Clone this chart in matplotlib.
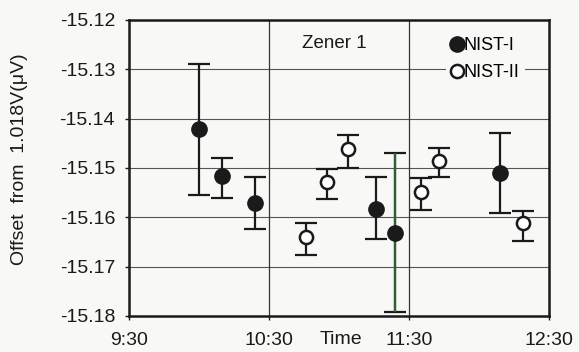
import numpy as np
import matplotlib.pyplot as plt

plt.rcParams["font.family"] = ["Liberation Sans", "DejaVu Sans"]

# readings of Zener 1, offset from 1.018 V in uV
nist1_time = ["10:00", "10:10", "10:24", "11:16", "11:24", "12:09"]
nist1_val = [-15.1421, -15.1516, -15.1570, -15.1584, -15.1631, -15.1510]
nist1_lo = [-15.1555, -15.1560, -15.1623, -15.1644, -15.1791, -15.1591]
nist1_hi = [-15.1290, -15.1480, -15.1518, -15.1519, -15.1470, -15.1430]

nist2_time = ["10:46", "10:55", "11:04", "11:35", "11:43", "12:19"]
nist2_val = [-15.1639, -15.1528, -15.1461, -15.1548, -15.1485, -15.1612]
nist2_lo = [-15.1676, -15.1563, -15.1501, -15.1586, -15.1519, -15.1647]
nist2_hi = [-15.1612, -15.1503, -15.1434, -15.1521, -15.1459, -15.1587]

x_ticks = ["9:30", "10:30", "11:30", "12:30"]
y_ticks = [-15.12, -15.13, -15.14, -15.15, -15.16, -15.17, -15.18]


def hours(stamps):
    return np.array([int(s.split(":")[0]) + int(s.split(":")[1]) / 60 for s in stamps])


def err(val, lo, hi):
    val, lo, hi = np.array(val), np.array(lo), np.array(hi)
    return np.vstack([val - lo, hi - val])


bg = "#f8f8f6"
fig = plt.figure(figsize=(5.79, 3.52), dpi=100, facecolor=bg)
ax = fig.add_axes([0.2228, 0.1023, 0.7254, 0.8409], facecolor=bg)

t1, t2 = hours(nist1_time), hours(nist2_time)
xt = hours(x_ticks)

for y in y_ticks[1:-1]:
    ax.axhline(y, color="#555555", lw=0.8, zorder=1)
for x in xt[1:-1]:
    ax.axvline(x, color="#333333", lw=0.9, zorder=1)

kw = dict(fmt="none", ecolor="#1a1a1a", elinewidth=1.6, capsize=7.8,
          capthick=1.6, zorder=3)
ax.errorbar(t1, nist1_val, yerr=err(nist1_val, nist1_lo, nist1_hi), **kw)
ax.errorbar(t2, nist2_val, yerr=err(nist2_val, nist2_lo, nist2_hi), **kw)

# the long bar at 11:24 is printed in green in the scan
i = 4
ax.vlines(t1[i], nist1_lo[i], nist1_hi[i], color="#2f5e2f", lw=1.6, zorder=4)

ax.plot(t1, nist1_val, "o", ms=11, color="#1a1a1a", zorder=5, label="NIST-I")
ax.plot(t2, nist2_val, "o", ms=9.5, mfc="white", mec="#1a1a1a", mew=1.8,
        zorder=5, label="NIST-II")

ax.set_xlim(xt[0], xt[-1])
ax.set_ylim(y_ticks[-1], y_ticks[0])
ax.set_xticks(xt)
ax.set_xticklabels(x_ticks)
ax.set_yticks(y_ticks)
ax.set_yticklabels([f"{v:.2f}" for v in y_ticks])
ax.tick_params(axis="both", labelsize=14, colors="#1a1a1a", length=3, width=1)
ax.tick_params(axis="y", pad=7)
ax.tick_params(axis="x", pad=8.5)
for s in ax.spines.values():
    s.set_linewidth(1.8)
    s.set_color("#1a1a1a")

ax.set_ylabel("Offset  from  1.018V(\u03bcV)", fontsize=14, color="#1a1a1a")
ax.yaxis.set_label_coords(-0.24, 0.53)

ax.text(0.49, 0.92, "Zener 1", transform=ax.transAxes, fontsize=13.5,
        ha="center", va="center", color="#1a1a1a")
ax.text(0.505, -0.052, "Time", transform=ax.transAxes, fontsize=14,
        ha="center", va="top", color="#1a1a1a")

leg = ax.legend(loc="upper right", bbox_to_anchor=(0.965, 0.99), fontsize=13,
                frameon=True, facecolor=bg, edgecolor="none", framealpha=1,
                handlelength=0.6, handletextpad=0.1, borderpad=0.3,
                labelspacing=0.55)
leg.set_zorder(6)

fig.savefig("out.png", dpi=100, facecolor=bg)
